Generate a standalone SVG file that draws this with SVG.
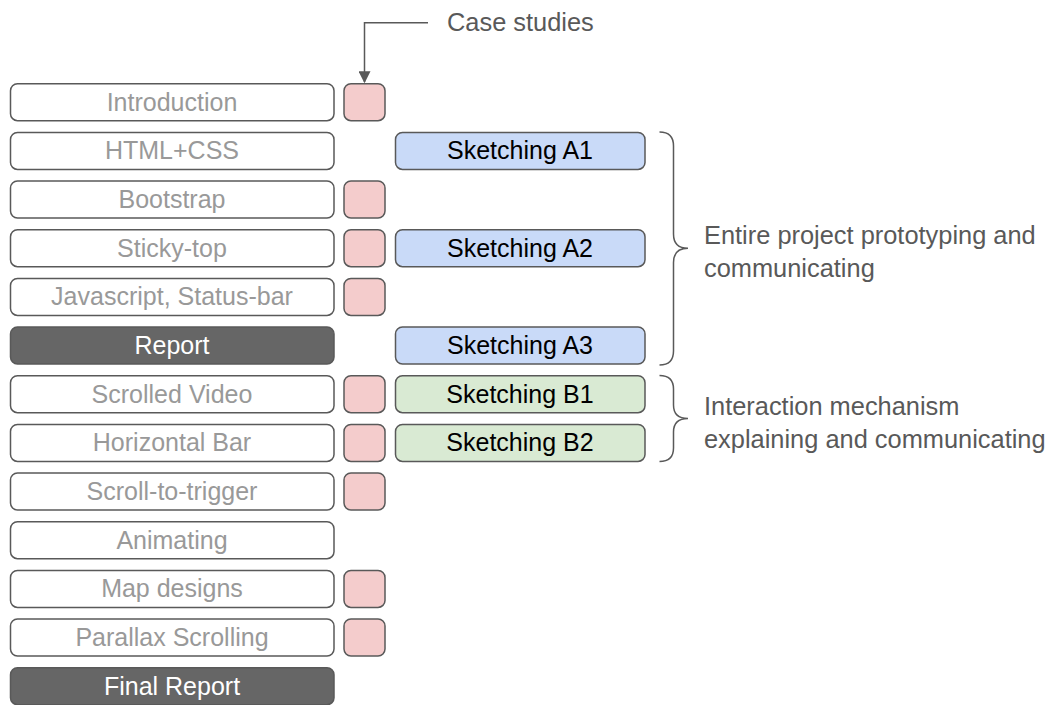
<svg xmlns="http://www.w3.org/2000/svg" width="1047" height="705" viewBox="0 0 1047 705">
<style>
text{font-family:"Liberation Sans",Arial,sans-serif;font-size:25px;text-anchor:middle}
.topic rect{fill:#fff;stroke:#595959;stroke-width:1.5}
.topic text{fill:#999999}
.rep rect{fill:#666666;stroke:#595959;stroke-width:1.5}
.rep text{fill:#ffffff}
.cs{fill:#f4cccc;stroke:#595959;stroke-width:1.5}
.ska rect{fill:#c9daf8;stroke:#595959;stroke-width:1.5}
.skb rect{fill:#d9ead3;stroke:#595959;stroke-width:1.5}
.ska text,.skb text{fill:#000}
.note{fill:#595959;text-anchor:start;font-size:25.4px}
.brace{fill:none;stroke:#595959;stroke-width:1.5}
</style>
<defs>
<marker id="ah" viewBox="0 0 10 10" refX="9" refY="5" markerWidth="12" markerHeight="12" markerUnits="userSpaceOnUse" orient="auto"><path d="M0,0 L10,5 L0,10 z" fill="#595959"/></marker>
</defs>

<g id="connectors">
<path d="M428,22.7 H364.5 V82" fill="none" stroke="#595959" stroke-width="1.5" marker-end="url(#ah)"/>
<path class="brace" d="M659.5,132 Q673.5,132 673.5,146 V234 Q673.5,248.3 688,248.3 Q673.5,248.3 673.5,262.6 V351 Q673.5,365 659.5,365"/>
<path class="brace" d="M659.5,375.5 Q673.5,375.5 673.5,389 V405 Q673.5,418.5 688,418.5 Q673.5,418.5 673.5,432 V448 Q673.5,461.5 659.5,461.5"/>
</g>

<g id="label-case"><text class="note" x="447" y="31">Case studies</text></g>
<g id="label-entire"><text class="note" x="704" y="244">Entire project prototyping and</text><text class="note" x="704" y="277">communicating</text></g>
<g id="label-interaction"><text class="note" x="704" y="415">Interaction mechanism</text><text class="note" x="704" y="448">explaining and communicating</text></g>

<g id="n-introduction" class="topic"><rect x="10.5" y="83.7" width="323.5" height="37" rx="7"/><text x="172" y="110.7">Introduction</text></g>
<g id="n-html" class="topic"><rect x="10.5" y="132.4" width="323.5" height="37" rx="7"/><text x="172" y="159.4">HTML+CSS</text></g>
<g id="n-bootstrap" class="topic"><rect x="10.5" y="181" width="323.5" height="37" rx="7"/><text x="172" y="208">Bootstrap</text></g>
<g id="n-sticky" class="topic"><rect x="10.5" y="229.7" width="323.5" height="37" rx="7"/><text x="172" y="256.7">Sticky-top</text></g>
<g id="n-js" class="topic"><rect x="10.5" y="278.4" width="323.5" height="37" rx="7"/><text x="172" y="305.4">Javascript, Status-bar</text></g>
<g id="n-report" class="rep"><rect x="10.5" y="327" width="323.5" height="37" rx="7"/><text x="172" y="354">Report</text></g>
<g id="n-video" class="topic"><rect x="10.5" y="375.7" width="323.5" height="37" rx="7"/><text x="172" y="402.7">Scrolled Video</text></g>
<g id="n-hbar" class="topic"><rect x="10.5" y="424.4" width="323.5" height="37" rx="7"/><text x="172" y="451.4">Horizontal Bar</text></g>
<g id="n-trigger" class="topic"><rect x="10.5" y="473" width="323.5" height="37" rx="7"/><text x="172" y="500">Scroll-to-trigger</text></g>
<g id="n-anim" class="topic"><rect x="10.5" y="521.7" width="323.5" height="37" rx="7"/><text x="172" y="548.7">Animating</text></g>
<g id="n-map" class="topic"><rect x="10.5" y="570.4" width="323.5" height="37" rx="7"/><text x="172" y="597.4">Map designs</text></g>
<g id="n-parallax" class="topic"><rect x="10.5" y="619" width="323.5" height="37" rx="7"/><text x="172" y="646">Parallax Scrolling</text></g>
<g id="n-final" class="rep"><rect x="10.5" y="667.7" width="323.5" height="37" rx="7"/><text x="172" y="694.7">Final Report</text></g>

<g id="cs-1"><rect class="cs" x="344" y="83.7" width="41" height="37" rx="7"/></g>
<g id="cs-2"><rect class="cs" x="344" y="181" width="41" height="37" rx="7"/></g>
<g id="cs-3"><rect class="cs" x="344" y="229.7" width="41" height="37" rx="7"/></g>
<g id="cs-4"><rect class="cs" x="344" y="278.4" width="41" height="37" rx="7"/></g>
<g id="cs-5"><rect class="cs" x="344" y="375.7" width="41" height="37" rx="7"/></g>
<g id="cs-6"><rect class="cs" x="344" y="424.4" width="41" height="37" rx="7"/></g>
<g id="cs-7"><rect class="cs" x="344" y="473" width="41" height="37" rx="7"/></g>
<g id="cs-8"><rect class="cs" x="344" y="570.4" width="41" height="37" rx="7"/></g>
<g id="cs-9"><rect class="cs" x="344" y="619" width="41" height="37" rx="7"/></g>

<g id="sk-a1" class="ska"><rect x="395.5" y="132.4" width="249.5" height="37" rx="7"/><text x="520" y="159.4">Sketching A1</text></g>
<g id="sk-a2" class="ska"><rect x="395.5" y="229.7" width="249.5" height="37" rx="7"/><text x="520" y="256.7">Sketching A2</text></g>
<g id="sk-a3" class="ska"><rect x="395.5" y="327" width="249.5" height="37" rx="7"/><text x="520" y="354">Sketching A3</text></g>
<g id="sk-b1" class="skb"><rect x="395.5" y="375.7" width="249.5" height="37" rx="7"/><text x="520" y="402.7">Sketching B1</text></g>
<g id="sk-b2" class="skb"><rect x="395.5" y="424.4" width="249.5" height="37" rx="7"/><text x="520" y="451.4">Sketching B2</text></g>
</svg>
